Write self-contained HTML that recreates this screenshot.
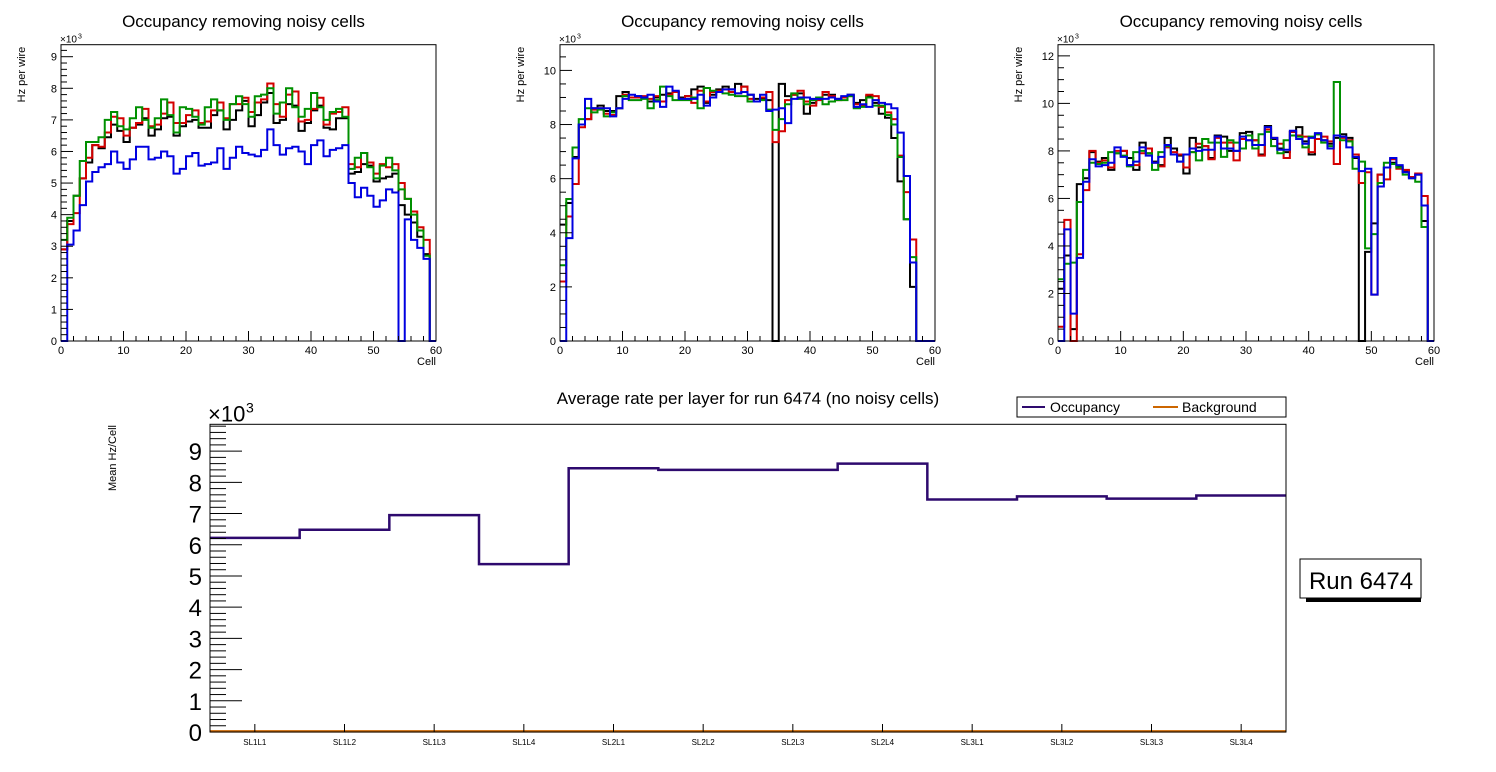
<!DOCTYPE html>
<html><head><meta charset="utf-8"><style>
body{margin:0;background:#fff;}
svg{display:block;font-family:"Liberation Sans",sans-serif;}
</style></head><body>
<svg id="c" width="1496" height="772" viewBox="0 0 1496 772" xmlns="http://www.w3.org/2000/svg"></svg>
<script>
// ---- Panel 1 data ----
const p1Black=[2.9,3.8,4.6,5.15,5.65,6.2,6.1,6.45,6.85,6.65,6.3,6.75,6.85,7.05,6.5,6.7,7.05,7.1,6.5,6.8,6.95,7.0,6.75,6.75,7.15,7.3,6.7,7.0,7.3,7.6,6.8,7.15,7.55,7.85,6.9,7.0,7.5,7.45,6.65,6.9,7.3,7.45,6.75,6.7,7.05,7.05,5.3,5.35,5.6,5.55,5.05,5.15,5.2,5.3,4.3,4.0,3.75,3.3,2.75,0];
const p1Red=[2.9,3.7,4.05,5.15,5.8,6.2,6.15,6.6,7.1,7.05,6.5,6.75,6.9,7.35,6.8,6.85,7.2,7.55,6.9,6.9,7.15,7.3,6.9,6.95,7.3,7.55,7.05,7.5,7.5,7.7,7.25,7.55,7.65,8.15,7.5,7.1,7.8,7.9,6.95,7.0,7.35,7.7,6.85,7.2,7.25,7.4,5.6,5.5,5.95,5.65,5.3,5.6,5.5,5.6,5.0,4.5,4.1,3.6,3.2,0];
const p1Green=[3.2,3.9,4.6,5.7,6.3,6.3,6.45,7.0,7.25,6.8,6.7,7.05,7.4,7.0,6.75,7.05,7.65,7.15,6.6,7.4,7.35,7.1,6.85,7.4,7.65,7.3,7.0,7.5,7.75,7.5,7.1,7.75,7.8,8.0,7.2,7.55,8.0,7.4,7.1,7.35,7.85,7.4,7.0,7.25,7.35,7.1,5.45,5.8,5.95,5.5,5.15,5.55,5.8,5.4,4.8,4.5,4.0,3.5,2.7,0];
const p1Blue=[0,3.05,3.5,4.3,5.05,5.35,5.5,5.6,6.0,5.65,5.45,5.75,6.15,6.15,5.75,5.8,6.0,5.85,5.3,5.45,5.85,5.95,5.55,5.6,5.65,6.1,5.45,5.8,6.15,5.95,5.9,5.85,6.05,6.7,6.2,5.9,6.1,6.15,6.0,5.6,6.2,6.35,5.85,6.05,6.1,6.2,5.0,4.55,4.85,4.6,4.25,4.45,4.8,4.7,0,3.85,3.2,2.95,2.6,0];
// ---- Panel 2 data ----
const p2Black=[4.3,5.1,6.8,8.0,8.2,8.6,8.7,8.5,8.5,9.05,9.2,9.0,9.05,9.0,8.85,9.0,9.1,9.15,9.2,9.0,9.05,9.3,9.4,8.8,9.1,9.3,9.4,9.3,9.5,9.4,9.1,8.95,8.95,8.9,0,9.5,9.05,9.1,9.15,8.4,8.8,9.0,9.1,9.1,8.95,9.0,9.1,8.8,8.9,9.05,8.8,8.4,8.25,7.5,5.9,4.5,2.0,0,0,0];
const p2Red=[2.2,4.6,5.8,7.9,8.2,8.55,8.6,8.4,8.35,8.6,9.1,9.0,9.0,9.05,8.95,9.05,8.85,9.1,9.2,8.95,9.05,8.8,9.25,8.85,9.2,9.25,9.3,9.2,9.15,9.4,8.95,8.85,9.0,9.2,7.35,7.75,8.9,9.1,9.25,8.85,8.7,8.9,9.2,9.05,8.9,9.0,9.05,8.75,8.7,9.1,9.05,8.65,8.45,8.2,6.85,5.5,3.75,0,0,0];
const p2Green=[2.8,5.25,7.15,8.2,8.6,8.45,8.55,8.3,8.45,8.6,9.05,8.9,8.9,8.95,8.6,8.9,9.4,9.05,8.9,8.9,8.9,9.0,8.6,9.35,9.25,9.2,9.15,9.1,9.05,9.05,8.85,8.85,8.9,8.55,7.8,8.2,8.75,9.15,8.95,8.75,8.9,9.0,8.75,8.85,8.9,8.9,9.05,8.6,8.65,9.0,8.7,8.7,8.35,8.0,6.8,4.5,3.1,0,0,0];
const p2Blue=[0,3.8,6.75,8.0,8.95,8.6,8.6,8.6,8.3,8.6,8.95,9.1,9.05,9.0,9.1,8.85,8.65,9.4,9.25,8.95,8.95,8.95,9.1,8.7,9.0,9.2,9.3,9.3,9.15,9.2,9.1,8.85,9.1,8.5,8.55,8.6,8.05,8.95,9.0,9.0,8.95,8.95,8.95,9.0,8.95,9.05,9.1,8.65,8.75,8.65,8.9,8.8,8.75,8.6,7.7,6.1,2.9,0,0,0];
// ---- Panel 3 data ----
const p3Black=[2.2,3.6,0.5,6.6,6.85,7.95,7.55,7.7,7.2,7.9,8.0,7.7,7.2,8.35,7.9,7.55,7.4,8.55,8.1,7.8,7.05,8.55,8.15,8.2,7.7,8.65,8.6,8.0,8.0,8.75,8.8,8.45,7.85,9.05,8.5,8.1,7.95,8.8,9.0,8.4,7.85,8.7,8.45,8.3,8.55,8.7,8.55,7.7,0,3.75,4.95,7.0,7.3,7.5,7.35,7.15,6.9,7.0,5.05,0];
const p3Red=[0.6,5.1,0,3.65,6.35,8.0,7.5,7.6,7.3,8.0,8.0,7.4,7.4,7.9,8.1,7.5,7.35,8.15,7.95,7.85,7.3,7.95,8.3,8.2,7.65,8.55,8.35,8.35,7.6,8.5,8.45,8.45,7.8,8.9,8.55,8.3,7.7,8.8,8.65,8.6,7.95,8.5,8.6,8.4,7.45,8.55,8.45,7.85,6.65,7.1,1.95,7.0,6.8,7.65,7.25,7.2,6.9,7.05,6.1,0];
const p3Green=[2.6,3.25,3.3,5.85,7.2,7.5,7.45,7.5,7.95,7.9,7.8,7.35,7.95,8.0,7.9,7.2,7.95,8.2,7.85,7.55,7.85,7.95,7.6,8.5,8.35,8.35,7.75,8.45,8.35,8.1,8.65,8.1,8.7,8.8,8.2,7.9,8.45,8.65,8.6,8.15,8.6,8.7,8.35,8.2,10.9,8.45,8.4,7.25,7.55,3.9,4.5,6.65,7.5,7.45,7.3,7.0,6.85,6.7,4.8,0];
const p3Blue=[0,4.7,1.15,3.5,6.7,7.65,7.35,7.4,7.5,8.15,7.75,7.4,7.55,8.15,7.8,7.5,7.75,8.25,7.85,7.55,7.85,8.1,8.0,8.05,8.05,8.6,8.1,8.1,8.0,8.6,8.45,8.25,8.25,9.0,8.55,8.05,8.05,8.85,8.5,8.3,8.55,8.75,8.45,8.1,8.65,8.6,8.15,7.75,7.15,7.25,1.95,6.5,7.3,7.7,7.4,7.1,6.85,7.0,5.7,0];
const xTicks=[0,10,20,30,40,50,60];
const p1YTicks=[0,1,2,3,4,5,6,7,8,9];
const p23YTicks2=[0,2,4,6,8,10];
const p3YTicks=[0,2,4,6,8,10,12];
// ---- Bottom data ----
const layers=["SL1L1","SL1L2","SL1L3","SL1L4","SL2L1","SL2L2","SL2L3","SL2L4","SL3L1","SL3L2","SL3L3","SL3L4"];
const occupancy=[6.22,6.48,6.95,5.38,8.45,8.4,8.4,8.6,7.45,7.55,7.48,7.58];
const background=[0.02,0.02,0.02,0.02,0.02,0.02,0.02,0.02,0.02,0.02,0.02,0.02];
const bottomYTicks=[0,1,2,3,4,5,6,7,8,9];

const NS="http://www.w3.org/2000/svg";
const svg=document.getElementById('c');
function mk(tag,attrs,parent,text){const e=document.createElementNS(NS,tag);for(const k in attrs)e.setAttribute(k,attrs[k]);if(text!==undefined)e.textContent=text;(parent||svg).appendChild(e);return e;}

function panel(id,x0,x1,ymax,yTicks,minorStep,series){
  const top=44.7,bot=341;
  const g=mk('g',{});
  
  
  const X=v=>x0+(x1-x0)*v/60, Y=v=>bot-(bot-top)*v/ymax;
  const t=mk('text',{x:(x0+x1)/2-5,y:27,'font-size':17,'text-anchor':'middle',fill:'#000'},g,'Occupancy removing noisy cells');
  
  const cols=['#000','#d40000','#009000','#0000e0'];
  series.forEach((s,i)=>{
    let d='M'+X(0)+' '+Y(s[0]);
    for(let b=0;b<s.length;b++){ if(b>0) d+=' V'+Y(s[b]); d+=' H'+X(b+1);}
    const p=mk('path',{d:d,fill:'none',stroke:cols[i],'stroke-width':2},g);
    
    
  });
  mk('rect',{x:x0,y:top,width:x1-x0,height:bot-top,fill:'none',stroke:'#000','stroke-width':1},g);
  for(let v=0;v<=60;v+=2){const maj=v%10===0;mk('line',{x1:X(v),x2:X(v),y1:bot,y2:bot-(maj?10:5),stroke:'#000'},g);}
  xTicks.forEach(v=>{const l=mk('text',{x:X(v),y:bot+13,'font-size':11,'text-anchor':'middle'},g,v);});
  for(let v=0;v<=ymax+1e-9;v+=minorStep){const maj=yTicks.some(t=>Math.abs(t-v)<1e-6);mk('line',{x1:x0,x2:x0+(maj?12:6),y1:Y(v),y2:Y(v),stroke:'#000'},g);}
  yTicks.forEach(v=>{const l=mk('text',{x:x0-4,y:Y(v)+4,'font-size':11,'text-anchor':'end'},g,v);});
  mk('text',{x:x0-1,y:top-2,'font-size':10},g,'×10');
  mk('text',{x:x0+17,y:top-6,'font-size':7},g,'3');
  const xt=mk('text',{x:x1,y:365,'font-size':11,'text-anchor':'end'},g,'Cell');
  const yt=mk('text',{x:0,y:0,'font-size':11,'text-anchor':'end',transform:'translate('+(x0-36)+','+(top+2)+') rotate(-90)'},g,'Hz per wire');
}
panel('panel-1',61,436,9.38,p1YTicks,0.2,[p1Black,p1Red,p1Green,p1Blue]);
panel('panel-2',560,935,10.95,p23YTicks2,0.5,[p2Black,p2Red,p2Green,p2Blue]);
panel('panel-3',1058,1434,12.47,p3YTicks,0.5,[p3Black,p3Red,p3Green,p3Blue]);

(function(){
  const x0=210,x1=1286,top=424.3,bot=732,ymax=9.86;
  const g=mk('g',{});
  
  
  const bw=(x1-x0)/layers.length;
  const X=i=>x0+bw*i, Y=v=>bot-(bot-top)*v/ymax;
  const t=mk('text',{x:748,y:404,'font-size':17,'text-anchor':'middle'},g,'Average rate per layer for run 6474 (no noisy cells)');
  
  function step(arr,col,name){let d='M'+X(0)+' '+Y(arr[0]);arr.forEach((v,i)=>{if(i>0)d+=' V'+Y(v);d+=' H'+X(i+1);});const p=mk('path',{d:d,fill:'none',stroke:col,'stroke-width':2.5},g);}
  step(occupancy,'#2e0a6e','occupancy-line');
  mk('line',{x1:x0,x2:x1,y1:bot,y2:bot,stroke:'#000','stroke-width':1},g);
  step(background,'#cc6600','background-line');
  mk('rect',{x:x0,y:top,width:x1-x0,height:bot-top,fill:'none',stroke:'#000'},g);
  for(let v=0;v<=ymax+1e-9;v+=0.2){const maj=Math.abs(v-Math.round(v))<1e-6;mk('line',{x1:x0,x2:x0+(maj?32:16),y1:Y(v),y2:Y(v),stroke:'#000'},g);}
  bottomYTicks.forEach(v=>{const l=mk('text',{x:x0-8,y:Y(v)+9,'font-size':24,'text-anchor':'end'},g,v);});
  mk('text',{x:x0-2,y:top-3,'font-size':22},g,'×10');
  mk('text',{x:x0+36,y:top-12,'font-size':14},g,'3');
  layers.forEach((n,i)=>{const cx=X(i+0.5);mk('line',{x1:cx,x2:cx,y1:bot,y2:bot-8,stroke:'#000'},g);const l=mk('text',{x:cx,y:745,'font-size':8,'text-anchor':'middle'},g,n);});
  const yt=mk('text',{x:0,y:0,'font-size':11,'text-anchor':'end',transform:'translate(116,425) rotate(-90)'},g,'Mean Hz/Cell');
  const lg=mk('g',{},g);
  mk('rect',{x:1017,y:397,width:269,height:20,fill:'#fff',stroke:'#000'},lg);
  mk('line',{x1:1022,x2:1045,y1:407,y2:407,stroke:'#2e0a6e','stroke-width':2},lg);
  mk('text',{x:1050,y:412,'font-size':14},lg,'Occupancy');
  mk('line',{x1:1153,x2:1178,y1:407,y2:407,stroke:'#cc6600','stroke-width':2},lg);
  mk('text',{x:1182,y:412,'font-size':14},lg,'Background');
  const rb=mk('g',{});
  mk('rect',{x:1306,y:560,width:115,height:42,fill:'#000'},rb);
  mk('rect',{x:1300,y:559,width:121,height:39,fill:'#fff',stroke:'#000'},rb);
  mk('text',{x:1361,y:589,'font-size':24,'text-anchor':'middle'},rb,'Run 6474');
})();
</script>
</body></html>
